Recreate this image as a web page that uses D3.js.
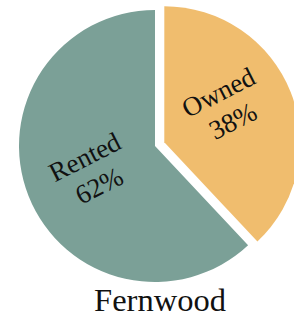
<!DOCTYPE html>
<html>
<head>
<meta charset="utf-8">
<script src="https://cdn.jsdelivr.net/npm/d3@7"></script>
<style>
	html, body { margin:0; padding:0; background:#fff; }
</style>
</head>
<body>
<div id="tenure_div"></div>
<script>

////////////////////////////////////////
////////////////////////////////////////
////////////////////////////////////////

var tenure_labels = ['Owned','Rented'];
var tenure_values = [38,62];
var tenure_colors = ['#f0bd6e','#7ba097'];
var tenure_title = 'Fernwood';

var tenure_w = 294;
var tenure_h = 318;
var tenure_cx = 155;
var tenure_cy = 146;
var tenure_r = 136;
var tenure_explode = 10;
var tenure_labelAngle = -27;
var tenure_lineGap = 32;
var tenure_fontSize = 27;
// small hand nudges for the label blocks, per slice
var tenure_labelNudge = [[-2,-11],[0,0]];

var tenureSVG = d3.select('#tenure_div').append('svg')
	.attr('id','tenureSVG')
	.attr('width',tenure_w)
	.attr('height',tenure_h);

var tenure_pie = d3.pie()
	.sort(null)
	.value(function(d){ return d; });

var tenure_arc = d3.arc()
	.innerRadius(0)
	.outerRadius(tenure_r);

var tenure_color = d3.scaleOrdinal()
	.domain(tenure_labels)
	.range(tenure_colors);

var tenure_slices = tenure_pie(tenure_values);

////////////////////////////////////////
////////////////////////////////////////
////////////////////////////////////////

var tenure_g = tenureSVG.append('g')
	.attr('transform','translate('+tenure_cx+','+tenure_cy+')');

var slice = tenure_g.selectAll('.slice')
	.data(tenure_slices)
	.enter()
	.append('g')
	.attr('class','slice')
	.attr('transform',function(d,i){
		// only the owned slice is pulled out
		if(i!==0) return null;
		var mid = (d.startAngle+d.endAngle)/2;
		return 'translate('+(Math.sin(mid)*tenure_explode)+','+(-Math.cos(mid)*tenure_explode)+')';
	});

slice.append('path')
	.attr('d',tenure_arc)
	.attr('fill',function(d,i){ return tenure_color(tenure_labels[i]); });

var label = slice.append('g')
	.attr('transform',function(d,i){
		var c = tenure_arc.centroid(d);
		var n = tenure_labelNudge[i];
		return 'translate('+(c[0]+n[0])+','+(c[1]+n[1])+') rotate('+tenure_labelAngle+')';
	});

label.append('text')
	.attr('y',-tenure_lineGap/2)
	.attr('dy','0.35em')
	.attr('text-anchor','middle')
	.attr('font-family','"Liberation Serif", "DejaVu Serif", serif')
	.attr('font-size',tenure_fontSize)
	.attr('fill','#111')
	.text(function(d,i){ return tenure_labels[i]; });

label.append('text')
	.attr('y',tenure_lineGap/2)
	.attr('dy','0.35em')
	.attr('text-anchor','middle')
	.attr('font-family','"Liberation Serif", "DejaVu Serif", serif')
	.attr('font-size',tenure_fontSize)
	.attr('fill','#111')
	.text(function(d){ return d.value+'%'; });

////////////////////////////////////////
////////////////////////////////////////
////////////////////////////////////////

tenureSVG.append('text')
	.attr('x',160)
	.attr('y',311)
	.attr('text-anchor','middle')
	.attr('font-family','"Liberation Serif", "DejaVu Serif", serif')
	.attr('font-size',32.5)
	.attr('fill','#111')
	.text(tenure_title);

</script>
</body>
</html>
